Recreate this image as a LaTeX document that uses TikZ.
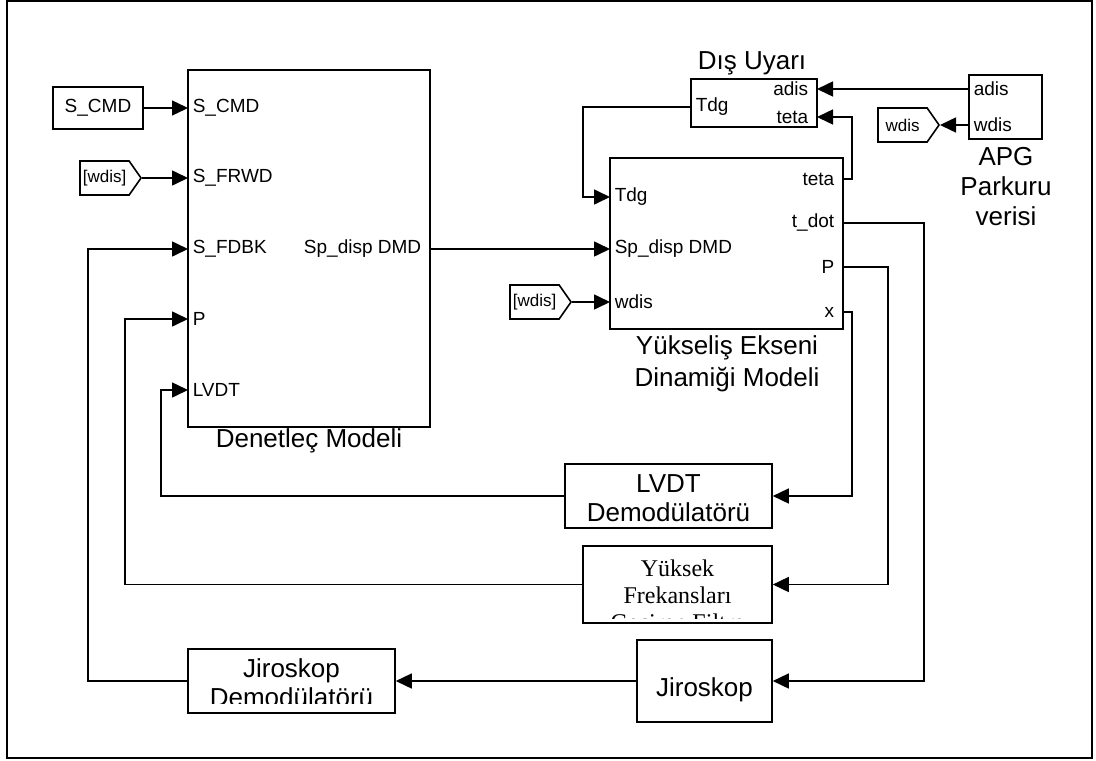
\documentclass[tikz,border=0pt]{standalone}
\usepackage{fontspec}
\setmainfont{Liberation Sans}
\newfontfamily\serifblk{Liberation Serif}
\usepackage{tikz}
\usetikzlibrary{
arrows.meta,
positioning,
shapes.symbols
}

\begin{document}
\begin{tikzpicture}[
    x=0.5pt,
    y=-0.5pt,
    line width=0.8pt,
    blok/.style={draw, rectangle, inner sep=0pt},
    sig/.style={-{Triangle[length=8pt,width=7.5pt]}},
    plbl/.style={font=\fontsize{9.5}{10}\selectfont, inner sep=2pt},
    title/.style={font=\fontsize{13}{15}\selectfont, align=center, inner sep=0pt},
    tag/.style={
        draw,
        shape=signal,
        signal to=east,
        signal pointer angle=110,
        font=\fontsize{8.5}{9}\selectfont,
        minimum height=17pt,
        minimum width=30.5pt,
        inner sep=1pt
    }
]

% Frame
\useasboundingbox (0,0) rectangle (1096,760);
\draw[line width=1.3pt] (7,1) rectangle (1092,758);

% Blocks
\node[blok, minimum width=121pt, minimum height=178.5pt] (den) at (309,248.5) {};
\node[blok, minimum width=116.5pt, minimum height=85.5pt] (plant) at (726.5,243.5) {};
\node[blok, minimum width=63pt, minimum height=24pt] (dis) at (754,103) {};
\node[blok, minimum width=36.5pt, minimum height=32pt] (apg) at (1005.5,107) {};
\node[
    blok,
    minimum width=45pt,
    minimum height=21pt,
    font=\fontsize{9.5}{10}\selectfont
] (scmd) at (98,108) {S\_CMD};
\node[blok, minimum width=103.5pt, minimum height=32pt] (lvdt) at (668.5,496) {};
\node[blok, minimum width=94.5pt, minimum height=38.5pt] (filt) at (677.5,584.5) {};
\node[blok, minimum width=67.5pt, minimum height=41pt] (jir) at (704.5,681) {};
\node[blok, minimum width=103.5pt, minimum height=32pt] (jdem) at (291.5,681) {};

% Goto tags
\node[tag, anchor=east] (tagA) at (142,178) {[wdis]};
\node[tag, anchor=east] (tagB) at (572,302) {[wdis]};
\node[tag, anchor=east] (tagC) at (940,125) {wdis};

% Block titles
\node[title] (t-den) at (309,441) {Denetleç Modeli};
\node[title, font=\fontsize{13}{16}\selectfont] (t-plant) at (727,364) {Yükseliş Ekseni\\Dinamiği Modeli};
\node[title] (t-dis) at (752,63) {Dış Uyarı};
\node[title] (t-apg) at (1006,187) {APG\\Parkuru\\verisi};
\node[title] (t-jir) at (704.5,690) {Jiroskop};

% Clipped texts
\begin{scope}
\clip (lvdt.north west) rectangle ([yshift=3.5pt]lvdt.south east);
\node[title, font=\fontsize{13}{14.5}\selectfont] (t-lvdt) at (668.5,498) {LVDT\\Demodülatörü};
\end{scope}
\begin{scope}
\clip (filt.north west) rectangle ([yshift=2.5pt]filt.south east);
\node[
    title,
    font=\serifblk\fontsize{12}{13.5}\selectfont
] (t-filt) at (677.5,598) {Yüksek\\Frekansları\\Geçiren Filtre};
\end{scope}
\begin{scope}
\clip (jdem.north west) rectangle ([yshift=5pt]jdem.south east);
\node[title, font=\fontsize{13}{14.5}\selectfont] (t-jdem) at (291.5,683) {Jiroskop\\Demodülatörü};
\end{scope}

% Input ports
\foreach \nm/\x/\y/\lab in {
den-in1/188/108/S\_CMD,
den-in2/188/178/S\_FRWD,
den-in3/188/249/S\_FDBK,
den-in4/188/319/P,
den-in5/188/390/LVDT,
pl-in1/610/197/Tdg,
pl-in2/610/249/Sp\_disp DMD,
pl-in3/610/302/wdis,
dis-out/691/107/Tdg,
apg-out1/969/89/adis,
apg-out2/969/125/wdis
}{
    \coordinate (\nm) at (\x,\y);
    \node[plbl, anchor=west] (l-\nm) at (\nm) {\lab};
}

% Output ports
\foreach \nm/\x/\y/\lab in {
den-out/430/249/Sp\_disp DMD,
pl-out1/843/179/teta,
pl-out2/843/223/t\_dot,
pl-out3/843/267/P,
pl-out4/843/312/x,
dis-in1/817/89/adis,
dis-in2/817/117/teta
}{
    \coordinate (\nm) at (\x,\y);
    \node[plbl, anchor=east, xshift=-2pt] (l-\nm) at (\nm) {\lab};
}

% Signals
\draw[sig] (scmd.east) -- (den-in1);
\draw[sig] (tagA.east) -- (den-in2);
\draw[sig] (den-out) -- (pl-in2);
\draw[sig] (tagB.east) -- (pl-in3);
\draw[sig] (dis-out) -- ++(-108,0) |- (pl-in1);
\draw[sig] (pl-out1) -- ++(9,0) |- (dis-in2);
\draw[sig] (apg-out1) -- (dis-in1);
\draw[sig] (apg-out2) -- (tagC.east);

% Feedback paths
\draw[sig] (pl-out2) -- ++(81,0) |- (jir.east);
\draw[sig] (pl-out3) -- ++(45,0) |- (filt.east);
\draw[sig] (pl-out4) -- ++(9,0) |- (lvdt.east);
\draw[sig] (lvdt.west) -- ++(-403,0) |- (den-in5);
\draw[sig] (filt.west) -- ++(-457,0) |- (den-in4);
\draw[sig] (jir.west) -- (jdem.east);
\draw[sig] (jdem.west) -- ++(-99,0) |- (den-in3);

\end{tikzpicture}
\end{document}
